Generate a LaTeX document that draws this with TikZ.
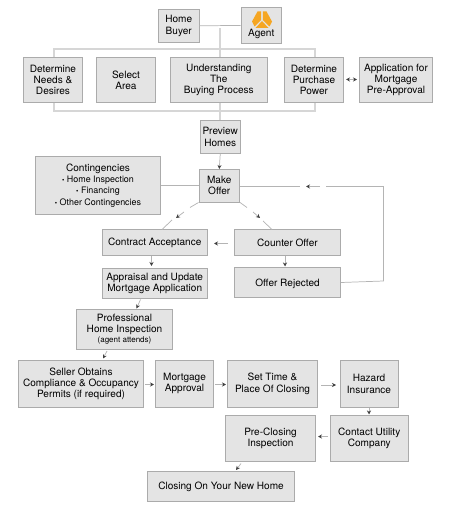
\documentclass[tikz,border=0pt]{standalone}
\usepackage{fontspec}
\setmainfont{TeX Gyre Heros}
\usetikzlibrary{arrows.meta}
\definecolor{boxfill}{HTML}{E4E4E4}
\definecolor{boxline}{HTML}{ABABAB}
\definecolor{linkgray}{HTML}{B4B4B4}
\definecolor{agentorange}{HTML}{F5A623}
\newcommand{\minitext}{\fontsize{6.7}{8.5}\selectfont}
\newcommand{\tinytext}{\fontsize{6}{7}\selectfont}
\tikzset{
    stepbox/.style 2 args={
        draw=boxline, fill=boxfill, line width=0.7pt, inner sep=0pt,
        align=center, font=\fontsize{7.55}{8.5}\selectfont,
        execute at begin node={\rule{0pt}{7pt}},
        minimum width=#1*0.75pt, minimum height=#2*0.75pt
    },
    link/.style={draw=linkgray, line width=0.55pt},
    frame/.style={draw=boxfill!70!linkgray, line width=1pt},
    tip/.style={-{Stealth[length=3pt,width=3pt,black!75]}, draw=linkgray, line width=0.55pt}
}
\begin{document}
\begin{tikzpicture}[x=0.75pt, y=-0.75pt]
    \useasboundingbox (0,0) rectangle (453,523);

    % Connexions de fons
    \coordinate (topleft) at (54,49);
    \coordinate (topright) at (315,49);
    \coordinate (botleft) at (54,111);
    \coordinate (botright) at (315,111);
    \draw[frame] (topleft) -- (topright) -- (botright) -- (botleft) -- cycle;
    \draw[frame] (220,28.5) -- (220,121);

    % Caixes
    \node[stepbox={40.5}{33}] (buyer) at (178.75,26) {Home\\Buyer};
    \node[stepbox={40.5}{35.5}] (agent) at (261.25,25.25) {\\[10.5pt]Agent};
    \node[stepbox={59}{45}] (needs) at (53,80) {Determine\\Needs \&\\Desires};
    \node[stepbox={59}{45}] (area) at (126,80) {Select\\Area};
    \node[stepbox={97.5}{45}] (process) at (218.75,80) {Understanding\\The\\Buying Process};
    \node[stepbox={59}{45}] (power) at (314,80) {Determine\\Purchase\\Power};
    \node[stepbox={73}{45}] (preapp) at (396,80) {Application for\\Mortgage\\Pre-Approval};
    \node[stepbox={40.5}{33}] (preview) at (220.25,137) {Preview\\Homes};
    \node[stepbox={40.5}{32.5}] (offer) at (219.25,185.75) {Make\\Offer};
    \node[stepbox={125}{58}] (conting) at (98,185.5) {Contingencies\\
        \minitext {\tiny\textbullet} Home Inspection\\\minitext {\tiny\textbullet} Financing\\\minitext {\tiny\textbullet} Other Contingencies};
    \node[stepbox={105.5}{25.5}] (accept) at (154.75,242.25) {Contract Acceptance};
    \node[stepbox={106}{25.5}] (counter) at (287.5,242.25) {Counter Offer};
    \node[stepbox={105.5}{30.5}] (appraisal) at (154.75,283.25) {Appraisal and Update\\Mortgage Application};
    \node[stepbox={106}{30}] (rejected) at (287.5,282.5) {Offer Rejected};
    \node[stepbox={96}{40.5}] (inspect) at (124.5,329.25) {Professional\\Home Inspection\\[-1pt]
        \tinytext (agent attends)};
    \node[stepbox={125}{46.5}] (permits) at (81,383.75) {Seller Obtains\\Compliance \& Occupancy\\Permits (if required)};
    \node[stepbox={58}{46.5}] (approval) at (184.5,383.75) {Mortgage\\Approval};
    \node[stepbox={90}{46.5}] (settime) at (272.5,383.75) {Set Time \&\\Place Of Closing};
    \node[stepbox={58}{46.5}] (hazard) at (369,383.75) {Hazard\\Insurance};
    \node[stepbox={77.5}{46}] (utility) at (369.25,438.5) {Contact Utility\\Company};
    \node[stepbox={90}{46}] (preclose) at (270.5,438.5) {Pre-Closing\\Inspection};
    \node[stepbox={147}{30.5}] (closing) at (221,486.25) {Closing On Your New Home};

    % Logotip
    \fill[agentorange] (261.2,11.5) -- (257.5,11.5) -- (252,21.5) -- (254.5,26.5) -- (261.2,20) -- cycle;
    \fill[agentorange] (262.8,11.5) -- (266.5,11.5) -- (272,21.5) -- (269.5,26.5) -- (262.8,20) -- cycle;
    \fill[agentorange] (262,21) -- (268.5,28) -- (255.5,28) -- cycle;

    % Fletxes
    \draw[link] (buyer) -- (agent);
    \draw[link] (offer.west) -- (offer.west -| conting.east);
    \draw[tip] (preview.south) -- (offer.north);
    \draw[link, {Stealth[length=3pt,width=3pt,black!75]}-{Stealth[length=3pt,width=3pt,black!75]}] (346,79.5) -- (357,79.5);
    \draw[link] (offer.south west) -- (190,207.5);
    \draw[tip] (184,212) -- (176,218);
    \draw[link] (172,220) -- (162,229.5);
    \draw[link] (offer.south east) -- (247,207.5);
    \draw[tip] (253,212) -- (260,218);
    \draw[link] (263,221) -- (272,229.5);
    \draw[tip] (228,243.5) -- (214,243.5);
    \draw[tip] (151.5,256) -- (151.5,266);
    \draw[tip] (285,256) -- (285,266.5);
    \draw[tip] (140.5,299.5) -- (136.5,308.5);
    \draw[tip] (107,351) -- (103,358.5);
    \draw[link] (rejected.east) -- (383.5,281) -- (383.5,186.5) -- (326,186.5);
    \draw[tip] (320,186.5) -- (306,186.5);
    \draw[link] (offer.east |- 0,186.5) -- (300,186.5);
    \draw[tip] (145,384.5) -- (154,384.5);
    \draw[tip] (215,384.5) -- (226,384.5);
    \draw[tip] (321,385) -- (336,385);
    \draw[tip] (369,408) -- (369,414.5);
    \draw[tip] (327.5,436.5) -- (318,436.5);
    \draw[tip] (241,463.5) -- (236,470);
\end{tikzpicture}
\end{document}
